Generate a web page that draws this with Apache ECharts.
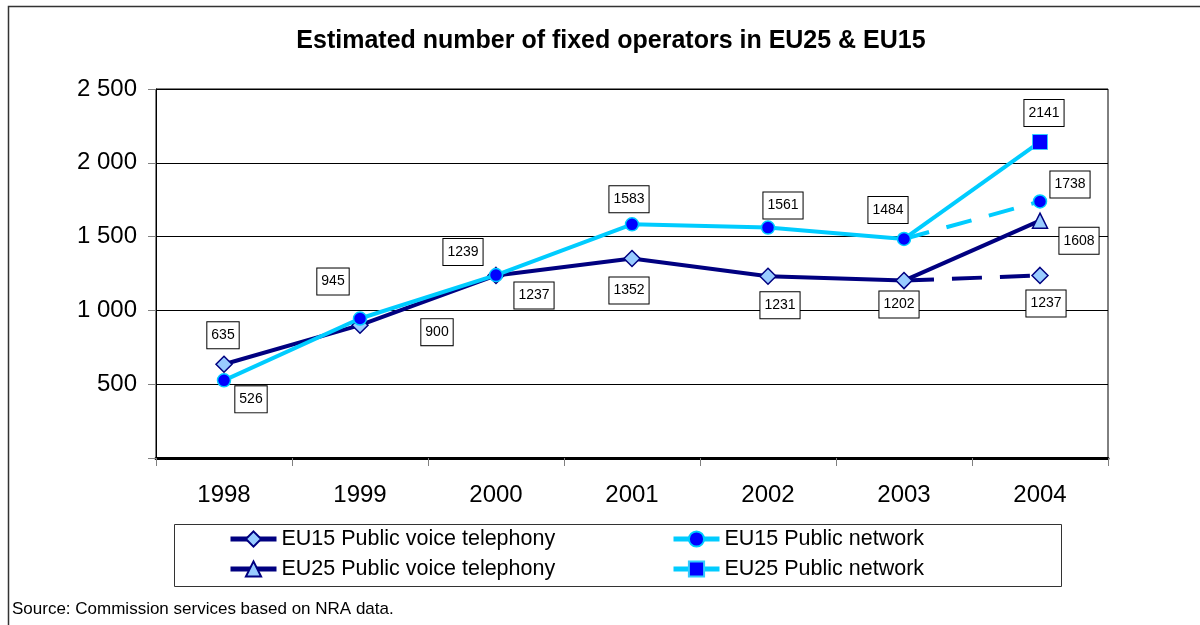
<!DOCTYPE html>
<html>
<head>
<meta charset="utf-8">
<script src="https://cdn.jsdelivr.net/npm/echarts@6/dist/echarts.min.js"></script>
<style>
html,body{margin:0;padding:0;background:#fff;}
#chart{width:1200px;height:625px;}
</style>
</head>
<body>
<div id="chart"></div>
<script>
// ---- data ----
const years = ['1998', '1999', '2000', '2001', '2002', '2003', '2004'];
const eu15Voice = [635, 900, 1237, 1352, 1231, 1202, 1237];
const eu15Network = [526, 945, 1239, 1583, 1561, 1484, 1738];
const eu25Voice = [null, null, null, null, null, 1202, 1608];
const eu25Network = [null, null, null, null, null, 1484, 2141];
const yTicks = [0, 500, 1000, 1500, 2000, 2500];
const seriesNames = ['EU15 Public voice telephony', 'EU15 Public network', 'EU25 Public voice telephony', 'EU25 Public network'];
const titleText = 'Estimated number of fixed operators in EU25 & EU15';
const sourceText = 'Source: Commission services based on NRA data.';

// ---- label placement (style only) ----
const voiceOff = [[-1, -29], [77, 7], [38, 20], [-3, 32], [12, 29], [-5, 24], [6, 28]];
const netOff = [[27, 19], [-27, -37], [-33, -23], [-3, -25], [15, -22], [-16, -29], [30, -17]];
const eu25VoiceOff = [39, 20];
const eu25NetOff = [4, -29];

const FONT = '"Liberation Sans", Arial, sans-serif';
const NAVY = '#000080';
const CYAN = '#00CCFF';
const LIGHT = '#99CCFF';
const BLUE = '#0000FF';

const labelBase = {
  show: true, position: 'inside', color: '#000', fontFamily: FONT, fontSize: 14,
  backgroundColor: '#fff', borderColor: '#000', borderWidth: 1, padding: [5, 4, 4, 4], lineHeight: 17
};

function pts(arr, from, to, offs, symbolAt) {
  return arr.map((v, i) => {
    if (i < from || i > to || v == null) return '-';
    const item = { value: v };
    if (offs && offs[i]) item.label = Object.assign({}, labelBase, { offset: offs[i] });
    if (symbolAt && symbolAt.indexOf(i) < 0) item.symbol = 'none';
    return item;
  });
}

const last = years.length - 1;
const voiceStyle = { color: NAVY, width: 4 };
const netStyle = { color: CYAN, width: 4 };
const voiceItem = { color: LIGHT, borderColor: NAVY, borderWidth: 1.5 };
const netItem = { color: BLUE, borderColor: CYAN, borderWidth: 1.5 };

const series = [
  {
    name: seriesNames[2], type: 'line', z: 2, symbol: 'triangle', symbolSize: 15,
    lineStyle: voiceStyle, itemStyle: voiceItem, label: { show: false },
    data: pts(eu25Voice, 0, last, { [last]: eu25VoiceOff }, [last])
  },
  {
    name: seriesNames[3], type: 'line', z: 2, symbol: 'rect', symbolSize: 15,
    lineStyle: netStyle, itemStyle: { color: BLUE, borderColor: '#33CCFF', borderWidth: 1 }, label: { show: false },
    data: pts(eu25Network, 0, last, { [last]: eu25NetOff }, [last])
  },
  {
    name: seriesNames[0], type: 'line', z: 3, symbol: 'diamond', symbolSize: 16,
    lineStyle: voiceStyle, itemStyle: voiceItem, label: { show: false },
    data: pts(eu15Voice, 0, last - 1, voiceOff)
  },
  {
    name: seriesNames[0] + ' (est.)', type: 'line', z: 3, symbol: 'diamond', symbolSize: 16,
    lineStyle: { color: NAVY, width: 4, type: [30, 18] }, itemStyle: voiceItem, label: { show: false },
    data: pts(eu15Voice, last - 1, last, { [last]: voiceOff[last] }, [last])
  },
  {
    name: seriesNames[1], type: 'line', z: 4, symbol: 'circle', symbolSize: 13,
    lineStyle: netStyle, itemStyle: netItem, label: { show: false },
    data: pts(eu15Network, 0, last - 1, netOff)
  },
  {
    name: seriesNames[1] + ' (est.)', type: 'line', z: 4, symbol: 'circle', symbolSize: 13,
    lineStyle: { color: CYAN, width: 4, type: [26, 18] }, itemStyle: netItem, label: { show: false },
    data: pts(eu15Network, last - 1, last, { [last]: netOff[last] }, [last])
  }
];

function legendAt(name, left, top) {
  return {
    data: [name], left: left, top: top, padding: 0, itemWidth: 46, itemHeight: 19,
    selectedMode: false,
    lineStyle: { width: 5 },
    textStyle: { fontFamily: FONT, fontSize: 21.5, color: '#000' }
  };
}

const chart = echarts.init(document.getElementById('chart'), null, { renderer: 'canvas' });
chart.setOption({
  animation: false,
  backgroundColor: '#fff',
  title: {
    text: titleText, left: 606, top: 24, textAlign: 'center',
    textStyle: { fontFamily: FONT, fontSize: 25, fontWeight: 'bold', color: '#000' }
  },
  legend: [
    legendAt(seriesNames[0], 228, 528),
    legendAt(seriesNames[1], 671, 528),
    legendAt(seriesNames[2], 228, 558),
    legendAt(seriesNames[3], 671, 558)
  ],
  grid: { left: 156, right: 92, top: 89, bottom: 167, show: true, borderColor: '#000', borderWidth: 1, backgroundColor: 'transparent' },
  xAxis: {
    type: 'category', data: years, boundaryGap: true,
    axisLine: { lineStyle: { color: '#000', width: 3 } },
    axisTick: { show: true, length: 8, lineStyle: { color: '#808080' } },
    axisLabel: { fontFamily: FONT, fontSize: 24, color: '#000', margin: 25 }
  },
  yAxis: {
    type: 'value', min: yTicks[0], max: yTicks[yTicks.length - 1], interval: yTicks[1] - yTicks[0],
    axisLine: { show: true, lineStyle: { color: '#000', width: 1 } },
    axisTick: { show: true, length: 8, lineStyle: { color: '#808080' } },
    splitLine: { show: true, lineStyle: { color: '#000', width: 1 } },
    axisLabel: {
      fontFamily: FONT, fontSize: 24, color: '#000', margin: 19,
      formatter: v => v === 0 ? '' : String(v).replace(/\B(?=(\d{3})+(?!\d))/g, ' ')
    }
  },
  graphic: [
    { type: 'rect', left: 6, top: 4, shape: { width: 1300, height: 700 }, style: { fill: 'none', stroke: '#333', lineWidth: 1.5 }, z: -1 },
    { type: 'rect', left: 172, top: 522, shape: { width: 887, height: 62 }, style: { fill: 'none', stroke: '#333', lineWidth: 1 }, z: 1 },
    { type: 'text', left: 12, top: 601, style: { text: sourceText, fontFamily: FONT, fontSize: 17, fill: '#000' } }
  ],
  series: series
});
</script>
</body>
</html>
